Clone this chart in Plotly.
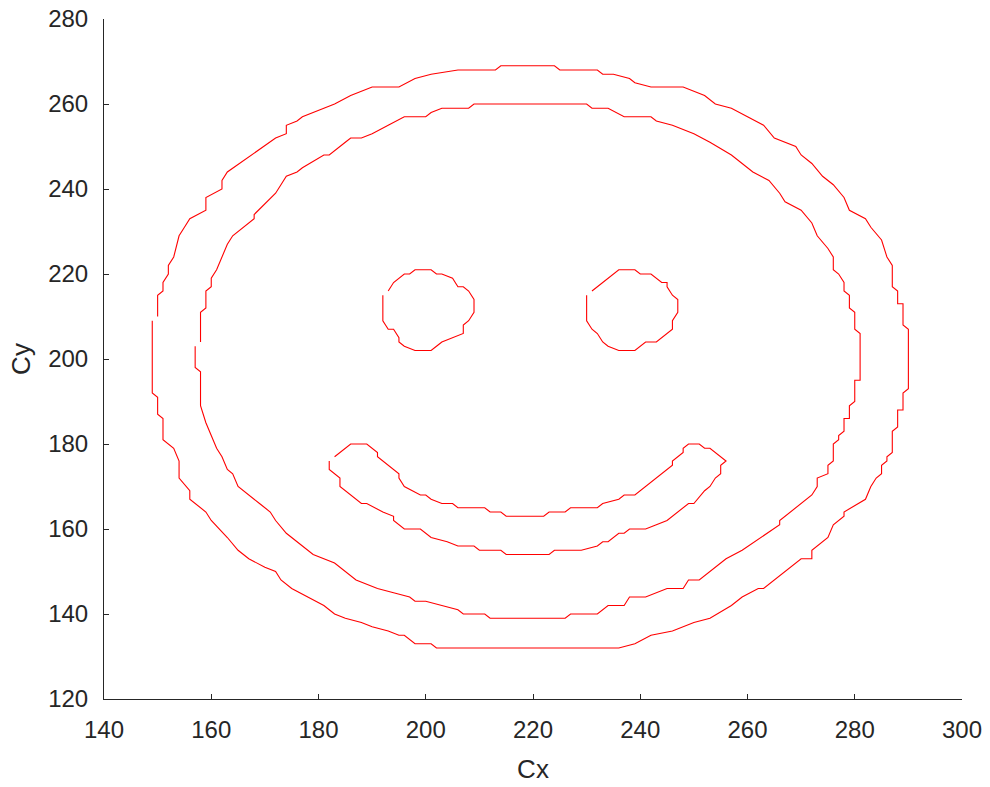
import plotly.graph_objects as go

# Boundary traces of the smiley image (pixel coordinates Cx, Cy)
outer_ring = [
    (150, 210), (150, 215), (151, 216), (151, 218), (152, 220), (152, 222), (153, 224),
    (154, 229), (155, 231), (156, 233), (159, 235), (159, 238), (162, 240), (162, 242),
    (163, 244), (171, 251), (172, 252), (174, 253), (174, 255), (176, 256), (177, 257),
    (181, 259), (183, 260), (186, 262), (190, 264), (195, 264), (198, 266), (201, 267),
    (206, 268), (213, 268), (214, 269), (224, 269), (225, 268), (232, 268), (233, 267),
    (235, 267), (238, 266), (239, 265), (242, 264), (248, 264), (250, 263), (252, 262),
    (254, 260), (257, 259), (260, 257), (263, 255), (265, 252), (269, 250), (270, 248),
    (272, 246), (274, 243), (276, 241), (278, 238), (279, 235), (282, 233), (283, 231),
    (285, 228), (286, 224), (287, 222), (287, 217), (288, 216), (288, 213), (289, 213),
    (289, 208), (290, 207), (290, 193), (289, 192), (289, 188), (288, 188), (288, 184),
    (287, 183), (287, 178), (286, 177), (286, 176), (285, 175), (285, 173), (284, 172),
    (283, 170), (282, 167), (278, 164), (278, 163), (276, 161), (275, 158), (272, 155),
    (272, 153), (270, 153), (263, 146), (262, 146), (259, 144), (257, 142), (253, 139),
    (250, 138), (246, 136), (242, 135), (239, 133), (236, 132), (202, 132), (201, 133),
    (198, 133), (196, 135), (195, 135), (193, 136), (190, 137), (188, 138), (185, 139),
    (183, 140), (181, 142), (178, 144), (175, 146), (173, 148), (172, 150), (170, 151),
    (167, 153), (165, 155), (163, 158), (160, 162), (159, 164), (156, 167), (156, 169),
    (154, 172), (154, 176), (153, 179), (151, 181), (151, 186), (150, 187), (150, 191),
    (149, 192), (149, 209),
]

inner_ring = [
    (158, 204), (158, 211), (159, 212), (159, 216), (160, 217), (160, 219), (161, 221),
    (162, 224), (163, 227), (164, 229), (168, 233), (168, 234), (172, 239), (173, 241),
    (174, 243), (176, 244), (177, 245), (181, 248), (182, 248), (185, 251), (186, 252),
    (188, 252), (190, 253), (193, 255), (196, 257), (200, 257), (201, 258), (203, 259),
    (208, 259), (209, 260), (230, 260), (231, 259), (234, 259), (237, 257), (242, 257),
    (243, 256), (246, 255), (250, 253), (253, 251), (257, 248), (259, 246), (261, 244),
    (264, 242), (266, 239), (267, 237), (270, 235), (272, 232), (273, 229), (275, 226),
    (276, 224), (276, 221), (277, 220), (278, 218), (278, 216), (279, 215), (279, 212),
    (280, 211), (280, 207), (281, 206), (281, 195), (280, 195), (280, 190), (279, 189),
    (279, 186), (278, 186), (278, 183), (277, 182), (277, 181), (276, 180), (276, 176),
    (275, 175), (275, 173), (273, 172), (273, 170), (272, 168), (266, 162), (266, 161),
    (259, 155), (256, 153), (251, 148), (249, 148), (248, 146), (245, 146), (243, 145),
    (241, 144), (238, 144), (237, 142), (234, 142), (233, 141), (232, 140), (227, 140),
    (226, 139), (212, 139), (211, 140), (207, 140), (206, 141), (203, 142), (200, 143),
    (198, 143), (197, 144), (194, 145), (191, 146), (187, 148), (185, 150), (183, 152),
    (179, 154), (176, 157), (174, 159), (172, 162), (171, 164), (169, 166), (167, 168),
    (165, 170), (164, 173), (163, 174), (162, 177), (161, 179), (160, 182), (159, 185),
    (158, 189), (158, 197), (157, 198), (157, 203),
]

left_eye = [
    (193, 216), (194, 218), (196, 220), (197, 220), (198, 221), (201, 221), (202, 220),
    (203, 220), (205, 219), (206, 217), (207, 217), (208, 216), (209, 214), (209, 211),
    (208, 209), (207, 208), (207, 206), (205, 205), (203, 204), (202, 203), (201, 202),
    (198, 202), (196, 203), (195, 204), (195, 205), (194, 207), (193, 207), (192, 209),
    (192, 215),
]

right_eye = [
    (231, 216), (236, 221), (239, 221), (240, 220), (242, 220), (244, 218), (245, 218),
    (245, 217), (246, 215), (247, 214), (247, 211), (246, 209), (246, 207), (245, 206),
    (243, 204), (241, 204), (240, 203), (239, 202), (236, 202), (234, 203), (233, 204),
    (232, 206), (231, 207), (230, 209), (230, 215),
]

mouth = [
    (183, 177), (186, 180), (189, 180), (191, 178), (191, 177), (195, 173), (195, 172),
    (196, 170), (199, 168), (200, 168), (201, 167), (203, 166), (205, 166), (206, 165),
    (211, 165), (212, 164), (214, 164), (215, 163), (222, 163), (223, 164), (226, 164),
    (227, 165), (232, 165), (233, 166), (236, 167), (237, 168), (239, 168), (240, 169),
    (246, 175), (246, 176), (248, 178), (248, 179), (249, 180), (251, 180), (252, 179),
    (253, 179), (255, 177), (256, 176), (255, 175), (255, 173), (254, 172), (253, 170),
    (252, 169), (250, 166), (249, 166), (245, 162), (243, 161), (241, 160), (238, 160),
    (237, 159), (236, 159), (234, 157), (233, 157), (232, 156), (229, 155), (224, 155),
    (223, 154), (215, 154), (214, 155), (210, 155), (209, 156), (206, 156), (204, 157),
    (201, 158), (199, 160), (196, 160), (194, 162), (194, 163), (192, 164), (189, 166),
    (188, 166), (186, 168), (184, 170), (184, 172), (183, 173), (182, 174), (182, 176),
]

x_ticks = [140, 160, 180, 200, 220, 240, 260, 280, 300]
y_ticks = [120, 140, 160, 180, 200, 220, 240, 260, 280]

fig = go.Figure()
for name, pts in [("outer", outer_ring), ("inner", inner_ring),
                  ("left eye", left_eye), ("right eye", right_eye), ("mouth", mouth)]:
    fig.add_trace(go.Scatter(
        x=[p[0] for p in pts], y=[p[1] for p in pts],
        mode="lines", name=name,
        line=dict(color="#ff0000", width=1.1),
        hoverinfo="skip",
    ))

font_family = "Liberation Sans, Arial, sans-serif"
axis_common = dict(
    showline=True, linecolor="#262626", linewidth=1,
    ticks="inside", ticklen=5, tickwidth=1, tickcolor="#262626",
    showgrid=False, zeroline=False, mirror=False, automargin=False,
    tickfont=dict(family=font_family, size=24, color="#262626"),
)

fig.update_layout(
    width=990, height=787,
    margin=dict(l=104, r=28, t=19, b=88),
    paper_bgcolor="white", plot_bgcolor="white",
    showlegend=False,
    xaxis=dict(range=[140, 300], tickvals=x_ticks, ticklabelstandoff=9,
               title=dict(text="Cx", standoff=18,
                          font=dict(family=font_family, size=26, color="#262626")),
               **axis_common),
    yaxis=dict(range=[120, 280], tickvals=y_ticks, ticklabelstandoff=10,
               title=dict(text="Cy", standoff=10,
                          font=dict(family=font_family, size=26, color="#262626")),
               **axis_common),
)

fig.write_html("out.html")
